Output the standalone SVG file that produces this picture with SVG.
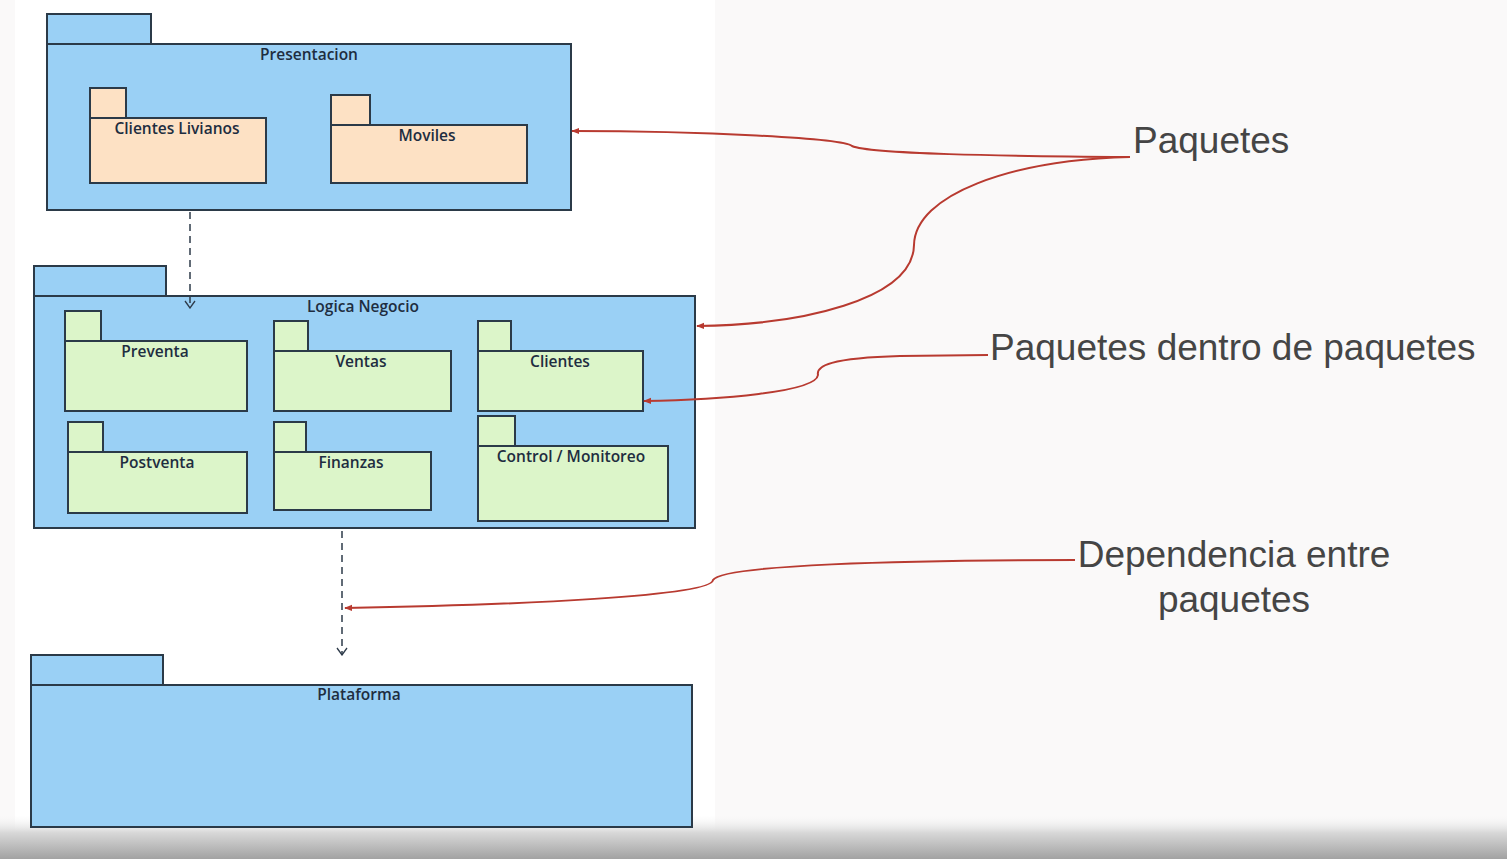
<svg xmlns="http://www.w3.org/2000/svg" width="1507" height="859" viewBox="0 0 1507 859">
<defs>
<linearGradient id="bot" x1="0" y1="0" x2="0" y2="1">
<stop offset="0" stop-color="#f7f7f7" stop-opacity="0"/>
<stop offset="0.4" stop-color="#d8d8d8"/>
<stop offset="1" stop-color="#a2a2a2"/>
</linearGradient>
<marker id="red" viewBox="0 0 10 10" refX="9" refY="5" markerWidth="8" markerHeight="8" orient="auto" markerUnits="userSpaceOnUse">
<path d="M0,1 L10,5 L0,9 Z" fill="#b83a30"/>
</marker>
<marker id="open" viewBox="0 0 12 10" refX="6" refY="9" markerWidth="12" markerHeight="10" orient="0" markerUnits="userSpaceOnUse">
<path d="M1,2 L6,9 L11,2" fill="none" stroke="#2e3b4a" stroke-width="1.3"/>
</marker>
</defs>
<style>
.blue{fill:#9ad0f5;stroke:#2b3a48;stroke-width:2}
.peach{fill:#fde1c4;stroke:#2b3a48;stroke-width:2}
.green{fill:#dcf5c9;stroke:#2b3a48;stroke-width:2}
.lbl{font-family:"Open Sans","DejaVu Sans",sans-serif;font-weight:600;font-size:15.5px;fill:#1e2d40;text-anchor:middle}
.ann{font-family:"Liberation Sans",Arial,sans-serif;font-size:37px;fill:#454545}
.red{fill:none;stroke:#b83a30;stroke-width:2}
.dep{fill:none;stroke:#2e3b4a;stroke-width:1.5;stroke-dasharray:7,5}
</style>
<rect x="0" y="0" width="1507" height="859" fill="#faf9f9"/>
<rect x="15" y="0" width="700" height="859" fill="#ffffff"/>
<rect x="0" y="815" width="1507" height="44" fill="url(#bot)"/>

<g id="presentacion">
<rect class="blue" x="47" y="14" width="104" height="30"/>
<rect class="blue" x="47" y="44" width="524" height="166"/>
<text class="lbl" x="309" y="60">Presentacion</text>
</g>
<g id="clientes-livianos">
<rect class="peach" x="90" y="88" width="36" height="30"/>
<rect class="peach" x="90" y="118" width="176" height="65"/>
<text class="lbl" x="177" y="134">Clientes Livianos</text>
</g>
<g id="moviles">
<rect class="peach" x="331" y="95" width="39" height="30"/>
<rect class="peach" x="331" y="125" width="196" height="58"/>
<text class="lbl" x="427" y="141">Moviles</text>
</g>

<g id="logica-negocio">
<rect class="blue" x="34" y="266" width="132" height="30"/>
<rect class="blue" x="34" y="296" width="661" height="232"/>
<text class="lbl" x="363" y="312">Logica Negocio</text>
</g>
<g id="preventa">
<rect class="green" x="65" y="311" width="36" height="30"/>
<rect class="green" x="65" y="341" width="182" height="70"/>
<text class="lbl" x="155" y="357">Preventa</text>
</g>
<g id="ventas">
<rect class="green" x="274" y="321" width="34" height="30"/>
<rect class="green" x="274" y="351" width="177" height="60"/>
<text class="lbl" x="361" y="367">Ventas</text>
</g>
<g id="clientes">
<rect class="green" x="478" y="321" width="33" height="30"/>
<rect class="green" x="478" y="351" width="165" height="60"/>
<text class="lbl" x="560" y="367">Clientes</text>
</g>
<g id="postventa">
<rect class="green" x="68" y="422" width="35" height="30"/>
<rect class="green" x="68" y="452" width="179" height="61"/>
<text class="lbl" x="157" y="468">Postventa</text>
</g>
<g id="finanzas">
<rect class="green" x="274" y="422" width="32" height="30"/>
<rect class="green" x="274" y="452" width="157" height="58"/>
<text class="lbl" x="351" y="468">Finanzas</text>
</g>
<g id="control-monitoreo">
<rect class="green" x="478" y="416" width="37" height="30"/>
<rect class="green" x="478" y="446" width="190" height="75"/>
<text class="lbl" x="571" y="462">Control / Monitoreo</text>
</g>

<g id="plataforma">
<rect class="blue" x="31" y="655" width="132" height="30"/>
<rect class="blue" x="31" y="685" width="661" height="142"/>
<text class="lbl" x="359" y="700">Plataforma</text>
</g>

<g id="connectors">
<path class="dep" d="M190,212 L190,308" marker-end="url(#open)"/>
<path class="dep" d="M342,531 L342,655" marker-end="url(#open)"/>
<path class="red" d="M1130,157 C1000,156 870,154 852,146 C842,138 700,131 572,131" marker-end="url(#red)"/>
<path class="red" d="M1130,157 C1010,160 915,195 914,245 C913,300 800,325 697,326" marker-end="url(#red)"/>
<path class="red" d="M988,355 L900,356 C830,358 816,366 818,375 C816,392 720,400 644,401" marker-end="url(#red)"/>
<path class="red" d="M1075,560 C900,560 722,565 713,580 C712,596 520,605 345,608" marker-end="url(#red)"/>
</g>

<g id="annotations">
<text class="ann" x="1133" y="153">Paquetes</text>
<text class="ann" x="990" y="360">Paquetes dentro de paquetes</text>
<text class="ann" x="1234" y="567" text-anchor="middle">Dependencia entre</text>
<text class="ann" x="1234" y="612" text-anchor="middle">paquetes</text>
</g>
</svg>
